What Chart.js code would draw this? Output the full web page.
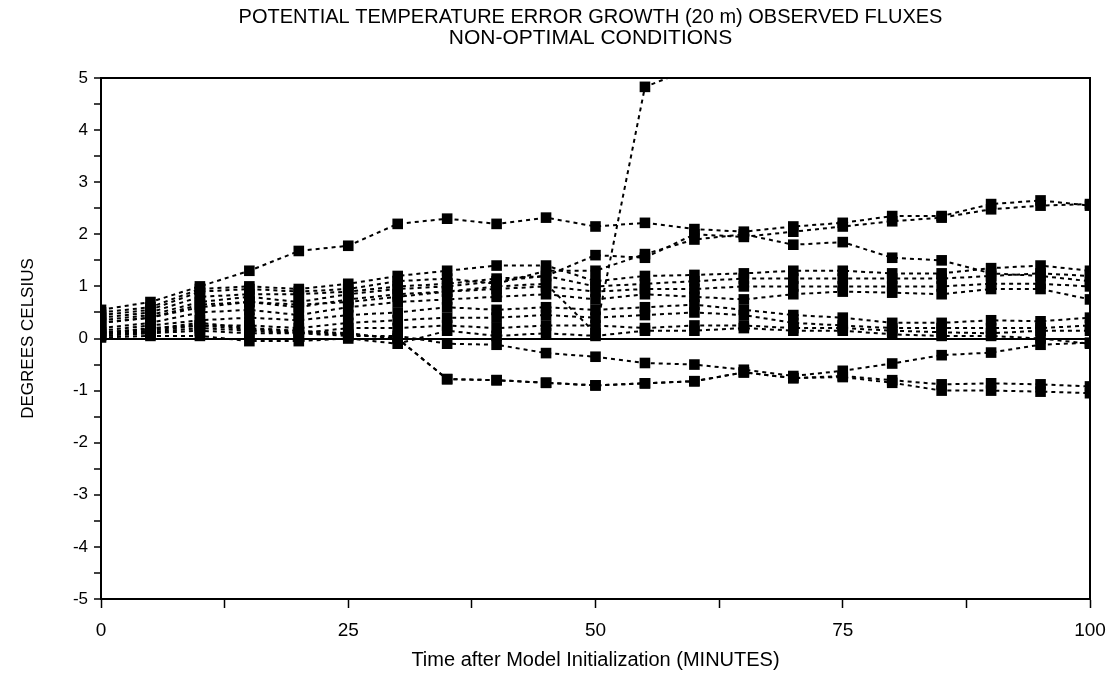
<!DOCTYPE html>
<html>
<head>
<meta charset="utf-8">
<title>Potential temperature error growth</title>
<script src="https://cdn.jsdelivr.net/npm/chart.js@4/dist/chart.umd.min.js"></script>
<style>
  html, body { margin: 0; padding: 0; background: #fff; }
  #wrap { width: 1112px; height: 689px; position: relative; }
</style>
</head>
<body>
<div id="wrap"><canvas id="c" width="1112" height="689"></canvas></div>
<script>
// Minutes after model initialization (sampled every 5 min)
const minutes = [0, 5, 10, 15, 20, 25, 30, 35, 40, 45, 50, 55, 60, 65, 70, 75, 80, 85, 90, 95, 100];

// Potential temperature error (deg C) for each ensemble run
const runTop      = [0.55, 0.70, 1.00, 1.30, 1.68, 1.78, 2.20, 2.30, 2.20, 2.32, 2.15, 2.22, 2.10, 2.05, 2.15, 2.22, 2.35, 2.35, 2.58, 2.65, 2.55];
const runUpperA   = [0.45, 0.55, 0.90, 0.95, 0.90, 0.95, 1.10, 1.15, 1.05, 1.30, 1.30, 1.62, 1.90, 2.00, 1.80, 1.85, 1.55, 1.50, 1.25, 1.20, 1.10];
const runUpperB   = [0.35, 0.45, 0.70, 0.80, 0.70, 0.85, 0.95, 1.00, 1.10, 1.20, 1.60, 1.55, 2.00, 1.95, 2.05, 2.15, 2.25, 2.32, 2.48, 2.55, 2.58];
const runDiverge  = [0.30, 0.40, 0.60, 0.70, 0.65, 0.70, 0.80, 0.90, 1.00, 1.05, 0.10, 4.83, 5.20, null, null, null, null, null, null, null, null];
const runMid1     = [0.50, 0.60, 0.95, 1.00, 0.95, 1.05, 1.20, 1.30, 1.40, 1.40, 1.10, 1.20, 1.22, 1.25, 1.30, 1.30, 1.25, 1.25, 1.35, 1.40, 1.30];
const runMid2     = [0.40, 0.50, 0.80, 0.85, 0.85, 0.90, 1.00, 1.05, 1.15, 1.20, 1.00, 1.05, 1.10, 1.15, 1.15, 1.15, 1.15, 1.15, 1.20, 1.25, 1.20];
const runMid3     = [0.30, 0.40, 0.65, 0.70, 0.60, 0.75, 0.85, 0.90, 0.95, 1.00, 0.90, 0.95, 0.95, 1.00, 1.00, 1.00, 1.00, 1.00, 1.05, 1.05, 1.00];
const runMid4     = [0.20, 0.30, 0.50, 0.55, 0.45, 0.60, 0.70, 0.75, 0.80, 0.85, 0.75, 0.85, 0.80, 0.75, 0.85, 0.90, 0.88, 0.85, 0.95, 0.95, 0.75];
const runLow1     = [0.15, 0.25, 0.35, 0.40, 0.35, 0.45, 0.50, 0.60, 0.55, 0.60, 0.55, 0.60, 0.65, 0.55, 0.45, 0.40, 0.30, 0.30, 0.35, 0.33, 0.40];
const runLow2     = [0.10, 0.20, 0.25, 0.25, 0.20, 0.30, 0.35, 0.40, 0.40, 0.45, 0.40, 0.45, 0.50, 0.45, 0.30, 0.25, 0.20, 0.20, 0.20, 0.20, 0.25];
const runLow3     = [0.05, 0.10, 0.15, 0.10, 0.10, 0.20, 0.20, 0.25, 0.20, 0.25, 0.25, 0.20, 0.25, 0.25, 0.20, 0.20, 0.15, 0.12, 0.10, 0.15, 0.15];
const runLow4     = [0.02, 0.05, 0.05, -0.05, -0.05, 0.00, -0.10, 0.15, 0.05, 0.10, 0.05, 0.15, 0.15, 0.20, 0.15, 0.15, 0.08, 0.05, 0.05, 0.00, -0.10];
const runNegA     = [0.08, 0.12, 0.20, 0.15, 0.10, 0.05, 0.05, -0.10, -0.12, -0.28, -0.35, -0.47, -0.50, -0.60, -0.72, -0.62, -0.48, -0.32, -0.27, -0.12, -0.08];
const runNegB     = [0.12, 0.18, 0.30, 0.20, 0.15, 0.10, 0.00, -0.78, -0.80, -0.85, -0.90, -0.86, -0.82, -0.65, -0.76, -0.72, -0.80, -0.88, -0.86, -0.88, -0.92];
const runNegC     = [0.10, 0.15, 0.25, 0.18, 0.12, 0.08, 0.00, -0.78, -0.80, -0.85, -0.90, -0.86, -0.82, -0.65, -0.76, -0.74, -0.85, -1.00, -1.00, -1.02, -1.05];

const allRuns = [runTop, runUpperA, runUpperB, runDiverge, runMid1, runMid2, runMid3, runMid4,
                 runLow1, runLow2, runLow3, runLow4, runNegA, runNegB, runNegC];

// Axis tick positions and labels
const xTickStep = 12.5;
const xLabelled = [0, 25, 50, 75, 100];
const yTickStep = 0.5;
const yLabelled = [5, 4, 3, 2, 1, 0, -1, -2, -3, -4, -5];

const titleLines = ['POTENTIAL TEMPERATURE ERROR GROWTH (20 m) OBSERVED FLUXES', 'NON-OPTIMAL CONDITIONS'];

const FONT = '"Liberation Sans", Arial, sans-serif';

const datasets = allRuns.map(vals => ({
  data: minutes.map((t, i) => ({ x: t, y: vals[i] })),
  borderColor: '#000',
  backgroundColor: '#000',
  borderWidth: 2,
  borderDash: [4, 4],
  pointStyle: 'rect',
  pointRadius: 7.5,
  pointHoverRadius: 7.5,
  pointBorderWidth: 0,
  tension: 0,
  spanGaps: false
}));

// Box around the plotting area and the two-line heading centred over it
const frame = {
  id: 'frame',
  afterDraw(chart) {
    const a = chart.chartArea, ctx = chart.ctx;
    ctx.save();
    ctx.strokeStyle = '#000';
    ctx.lineWidth = 2;
    ctx.strokeRect(a.left, a.top, a.right - a.left, a.bottom - a.top);
    ctx.fillStyle = '#000';
    ctx.textAlign = 'center';
    ctx.textBaseline = 'middle';
    const cx = (a.left + a.right) / 2 - 5;
    ctx.font = '20px ' + FONT;
    ctx.fillText(titleLines[0], cx, 17);
    ctx.font = '21px ' + FONT;
    ctx.fillText(titleLines[1], cx, 38);
    ctx.restore();
  }
};

new Chart(document.getElementById('c'), {
  type: 'line',
  data: { datasets },
  plugins: [frame],
  options: {
    responsive: false,
    animation: false,
    layout: { padding: { left: 0, right: 22, top: 78, bottom: 0 } },
    plugins: {
      legend: { display: false },
      tooltip: { enabled: false },
      title: { display: false }
    },
    scales: {
      x: {
        type: 'linear',
        min: 0, max: 100,
        afterFit(s) { s.height = 90; s.paddingLeft = 0; s.paddingRight = 0; },
        border: { display: true, color: '#000', width: 2 },
        grid: {
          drawOnChartArea: false,
          tickColor: '#000',
          tickWidth: 1.5,
          tickLength: 9
        },
        ticks: {
          stepSize: xTickStep,
          autoSkip: false,
          maxRotation: 0,
          color: '#000',
          padding: 11,
          font: { family: FONT, size: 19 },
          callback: v => (xLabelled.includes(v) ? String(v) : '')
        },
        title: {
          display: true,
          text: 'Time after Model Initialization (MINUTES)',
          color: '#000',
          font: { family: FONT, size: 20 },
          padding: { top: 0, bottom: 17 }
        }
      },
      y: {
        type: 'linear',
        min: -5, max: 5,
        afterFit(s) { s.width = 101; s.paddingTop = 0; s.paddingBottom = 0; },
        border: { display: true, color: '#000', width: 2 },
        grid: {
          drawOnChartArea: true,
          color: c => (c.tick && c.tick.value === 0 ? '#000' : 'rgba(0,0,0,0)'),
          lineWidth: c => (c.tick && c.tick.value === 0 ? 2 : 0),
          tickColor: '#000',
          tickWidth: 1.5,
          tickLength: 7
        },
        ticks: {
          stepSize: yTickStep,
          autoSkip: false,
          color: '#000',
          padding: 6,
          font: { family: FONT, size: 17 },
          callback: v => (yLabelled.includes(v) ? String(v) : '')
        },
        title: {
          display: true,
          text: 'DEGREES CELSIUS',
          color: '#000',
          font: { family: FONT, size: 17 },
          padding: { top: 18, bottom: 0 }
        }
      }
    }
  }
});
</script>
</body>
</html>
